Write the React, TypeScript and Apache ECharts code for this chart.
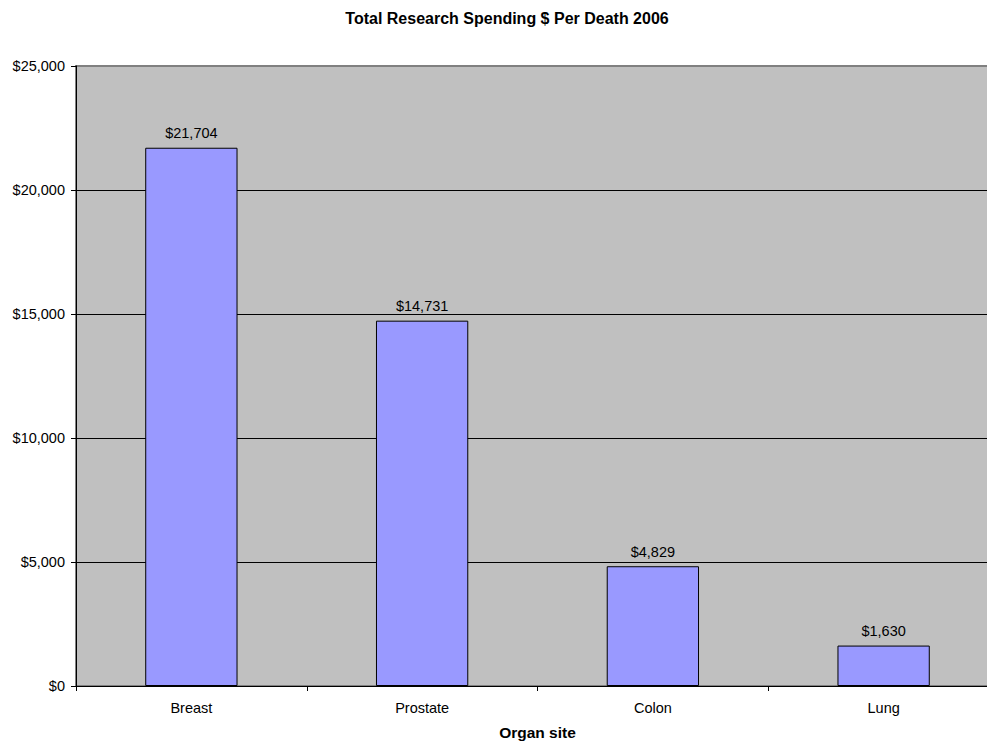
import React, { useEffect, useRef } from "react";
import * as echarts from "echarts";

const categories = ["Breast", "Prostate", "Colon", "Lung"];
const spending = [21704, 14731, 4829, 1630];
const titleText = "Total Research Spending $ Per Death 2006";
const xAxisName = "Organ site";

const fmt = (v: number) => "$" + v.toLocaleString("en-US");

export default function App() {
  const ref = useRef<HTMLDivElement>(null);
  useEffect(() => {
    if (!ref.current) return;
    const chart = echarts.init(ref.current, null, { renderer: "svg" });
    const font = "'Liberation Sans', Arial, sans-serif";
    chart.setOption({
      animation: false,
      textStyle: { fontFamily: font },
      title: {
        text: titleText,
        left: 502,
        textAlign: "center",
        top: 5,
        textStyle: { fontSize: 16, fontWeight: "bold", color: "#000", fontFamily: font },
      },
      grid: {
        left: 76,
        right: -12,
        top: 66,
        bottom: 56,
        show: true,
        backgroundColor: "#C0C0C0",
        borderColor: "#808080",
        borderWidth: 2,
        containLabel: false,
        outerBoundsMode: "none",
      },
      xAxis: {
        type: "category",
        data: categories,
        name: xAxisName,
        nameLocation: "middle",
        nameGap: 38,
        nameTextStyle: { fontSize: 15.5, fontWeight: "bold", color: "#000", fontFamily: font },
        axisLine: { lineStyle: { color: "#000", width: 1 } },
        axisTick: { show: true, length: 5, lineStyle: { color: "#000" } },
        axisLabel: { color: "#000", fontSize: 14.5, margin: 14, fontFamily: font },
      },
      yAxis: {
        type: "value",
        min: 0,
        max: 25000,
        interval: 5000,
        axisLine: { show: true, lineStyle: { color: "#000", width: 1 } },
        axisTick: { show: true, length: 5, lineStyle: { color: "#000" } },
        axisLabel: {
          color: "#000",
          fontSize: 14.5,
          margin: 11,
          fontFamily: font,
          formatter: (v: number) => fmt(v),
        },
        splitLine: {
          show: true,
          showMaxLine: false,
          lineStyle: { color: "#000", width: 1 },
        },
      },
      series: [
        {
          type: "bar",
          data: spending,
          barWidth: "40%",
          itemStyle: { color: "#9999FF", borderColor: "#000", borderWidth: 1 },
          label: {
            show: true,
            position: "top",
            distance: 7,
            color: "#000",
            fontSize: 14.5,
            fontFamily: font,
            formatter: (p: any) => fmt(p.value),
          },
        },
      ],
    });
    return () => chart.dispose();
  }, []);
  return (
    <div
      ref={ref}
      style={{ position: "fixed", left: 0, top: 0, width: 987, height: 742, background: "#fff" }}
    />
  );
}
